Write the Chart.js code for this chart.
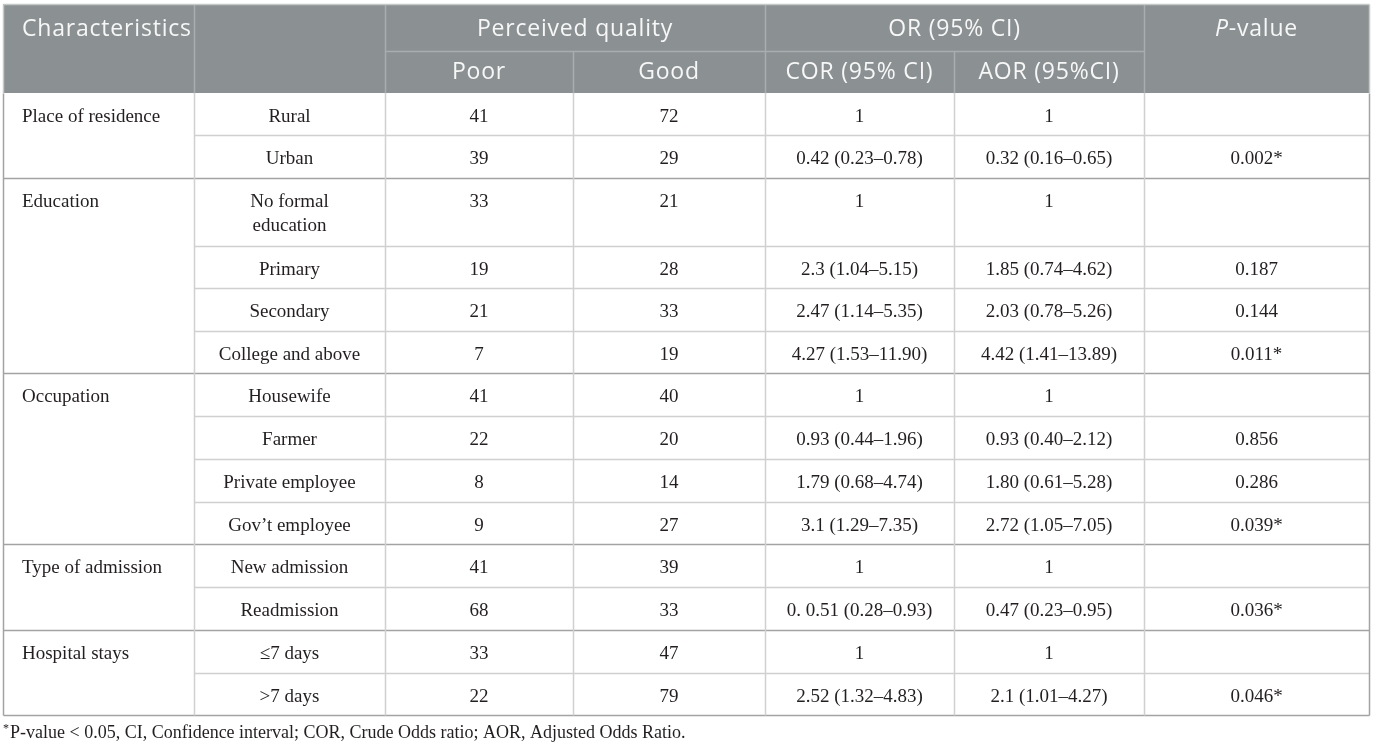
<!DOCTYPE html>
<html>
<head>
<meta charset="utf-8">
<script src="https://cdn.jsdelivr.net/npm/chart.js@4.4.1/dist/chart.umd.min.js"></script>
<style>
  html, body { margin: 0; padding: 0; background: #fff; }
  canvas { display: block; }
</style>
</head>
<body>
<canvas id="tbl" width="1375" height="748"></canvas>
<script>
// table content
const headTop = ['Characteristics', 'Perceived quality', 'OR (95% CI)', 'P-value'];
const headSub = ['Poor', 'Good', 'COR (95% CI)', 'AOR (95%CI)'];
const groups = ['Place of residence', 'Education', 'Occupation', 'Type of admission', 'Hospital stays'];
const groupSizes = [2, 4, 4, 2, 2];
const levels = ['Rural', 'Urban', 'No formal\neducation', 'Primary', 'Secondary', 'College and above',
  'Housewife', 'Farmer', 'Private employee', 'Gov\u2019t employee', 'New admission', 'Readmission',
  '\u22647 days', '>7 days'];
const poor = [41, 39, 33, 19, 21, 7, 41, 22, 8, 9, 41, 68, 33, 22];
const good = [72, 29, 21, 28, 33, 19, 40, 20, 14, 27, 39, 33, 47, 79];
const cor = ['1', '0.42 (0.23\u20130.78)', '1', '2.3 (1.04\u20135.15)', '2.47 (1.14\u20135.35)', '4.27 (1.53\u201311.90)',
  '1', '0.93 (0.44\u20131.96)', '1.79 (0.68\u20134.74)', '3.1 (1.29\u20137.35)', '1', '0. 0.51 (0.28\u20130.93)',
  '1', '2.52 (1.32\u20134.83)'];
const aor = ['1', '0.32 (0.16\u20130.65)', '1', '1.85 (0.74\u20134.62)', '2.03 (0.78\u20135.26)', '4.42 (1.41\u201313.89)',
  '1', '0.93 (0.40\u20132.12)', '1.80 (0.61\u20135.28)', '2.72 (1.05\u20137.05)', '1', '0.47 (0.23\u20130.95)',
  '1', '2.1 (1.01\u20134.27)'];
const pvals = ['', '0.002*', '', '0.187', '0.144', '0.011*', '', '0.856', '0.286', '0.039*', '', '0.036*', '', '0.046*'];
const footnote = 'P-value < 0.05, CI, Confidence interval; COR, Crude Odds ratio; AOR, Adjusted Odds Ratio.';

// layout (scale units)
const colEdges = [3, 194, 385, 573, 765, 954, 1144, 1369];
const headEdges = [4, 51, 93];
const rowEdges = [93, 135, 178, 246, 288, 331, 373, 416, 459, 502, 544, 587, 630, 673, 715];
const textDrop = 24;
const lineGap = 24;
const headBg = '#8b9193';
const headLine = '#a8adaf';
const innerLine = '#d0d0d0';
const groupLine = '#a3a3a3';
const ink = '#231f20';
const serif = '"Liberation Serif", "DejaVu Serif", serif';
const sans = '"Open Sans", "Noto Sans", sans-serif';
const headFont = '23px ' + sans;

const groupStart = [];
groupSizes.reduce((acc, n) => { groupStart.push(acc); return acc + n; }, 0);

const colMid = i => (colEdges[i] + colEdges[i + 1]) / 2;
const textY = r => rowEdges[r] + textDrop;

function column(labels, col, align) {
  return {
    labels: labels.map(String),
    align: align,
    data: labels.map((_, r) => ({ x: align === 'left' ? colEdges[col] + 19 : colMid(col), y: textY(r) })),
    pointRadius: 0
  };
}

const datasets = [
  {
    labels: groups, align: 'left', pointRadius: 0,
    data: groups.map((_, g) => ({ x: colEdges[0] + 19, y: textY(groupStart[g]) }))
  },
  column(levels, 1, 'center'),
  column(poor, 2, 'center'),
  column(good, 3, 'center'),
  column(cor, 4, 'center'),
  column(aor, 5, 'center'),
  column(pvals, 6, 'center')
];

const tablePlugin = {
  id: 'table',
  beforeDatasetsDraw(chart) {
    const { ctx } = chart;
    const X = v => chart.scales.x.getPixelForValue(v);
    const Y = v => chart.scales.y.getPixelForValue(v);
    const L = colEdges[0], R = colEdges[colEdges.length - 1];
    ctx.save();
    // header background
    ctx.fillStyle = headBg;
    ctx.fillRect(X(L), Y(headEdges[0]), X(R) - X(L), Y(headEdges[2]) - Y(headEdges[0]));
    ctx.lineWidth = 1.5;
    const seg = (x1, y1, x2, y2, c) => {
      ctx.strokeStyle = c;
      ctx.beginPath();
      ctx.moveTo(Math.round(X(x1)) + 0.5, Math.round(Y(y1)) + 0.5);
      ctx.lineTo(Math.round(X(x2)) + 0.5, Math.round(Y(y2)) + 0.5);
      ctx.stroke();
    };
    // header lines
    seg(colEdges[2], headEdges[1], colEdges[6], headEdges[1], headLine);
    [1, 2, 4, 6].forEach(i => seg(colEdges[i], headEdges[0], colEdges[i], headEdges[2], headLine));
    [3, 5].forEach(i => seg(colEdges[i], headEdges[1], colEdges[i], headEdges[2], headLine));
    seg(L, headEdges[0], R, headEdges[0], '#c4c8c6');
    // body horizontal lines
    for (let r = 1; r < rowEdges.length - 1; r++) {
      if (groupStart.includes(r)) seg(L, rowEdges[r], R, rowEdges[r], groupLine);
      else seg(colEdges[1], rowEdges[r], R, rowEdges[r], innerLine);
    }
    seg(L, rowEdges[rowEdges.length - 1], R, rowEdges[rowEdges.length - 1], groupLine);
    // body vertical lines
    colEdges.forEach((e, i) => {
      const c = (i === 0 || i === colEdges.length - 1) ? groupLine : innerLine;
      seg(e, headEdges[2], e, rowEdges[rowEdges.length - 1], c);
    });
    seg(L, headEdges[0], L, headEdges[2], '#c4c8c6');
    seg(R, headEdges[0], R, headEdges[2], '#c4c8c6');
    ctx.restore();
  },
  afterDatasetsDraw(chart) {
    const { ctx } = chart;
    const X = v => chart.scales.x.getPixelForValue(v);
    const Y = v => chart.scales.y.getPixelForValue(v);
    ctx.save();
    ctx.textBaseline = 'middle';
    // header text
    ctx.fillStyle = '#f7f7f7';
    ctx.letterSpacing = '0.8px';
    ctx.font = headFont;
    const y1 = Y(headEdges[0] + 25), y2 = Y(headEdges[1] + 21);
    ctx.textAlign = 'left';
    ctx.fillText(headTop[0], X(colEdges[0] + 19), y1);
    ctx.textAlign = 'center';
    ctx.fillText(headTop[1], X((colEdges[2] + colEdges[4]) / 2), y1);
    ctx.fillText(headTop[2], X((colEdges[4] + colEdges[6]) / 2), y1);
    // P-value with italic P
    const pFirst = headTop[3].slice(0, 1), pRest = headTop[3].slice(1);
    ctx.font = 'italic ' + headFont;
    const wP = ctx.measureText(pFirst).width;
    ctx.font = headFont;
    const wR = ctx.measureText(pRest).width;
    const px = X(colMid(6)) - (wP + wR) / 2;
    ctx.textAlign = 'left';
    ctx.font = 'italic ' + headFont;
    ctx.fillText(pFirst, px, y1);
    ctx.font = headFont;
    ctx.fillText(pRest, px + wP, y1);
    ctx.textAlign = 'center';
    headSub.forEach((t, i) => ctx.fillText(t, X(colMid(i + 2)), y2));
    ctx.letterSpacing = '0px';

    // body cells
    ctx.fillStyle = ink;
    ctx.font = '19px ' + serif;
    chart.data.datasets.forEach((ds, di) => {
      const meta = chart.getDatasetMeta(di);
      ctx.textAlign = ds.align;
      meta.data.forEach((el, i) => {
        const lines = ds.labels[i].split('\n');
        lines.forEach((ln, k) => ctx.fillText(ln, el.x, el.y + k * lineGap));
      });
    });

    // footnote
    const fy = Y(rowEdges[rowEdges.length - 1] + 18);
    ctx.textAlign = 'left';
    ctx.font = '12px ' + serif;
    ctx.fillText('*', X(3), fy - 4);
    ctx.font = '18px ' + serif;
    ctx.fillText(footnote, X(10), fy);
    ctx.restore();
  }
};

new Chart(document.getElementById('tbl'), {
  type: 'scatter',
  data: { datasets },
  options: {
    responsive: false,
    animation: false,
    devicePixelRatio: 1,
    layout: { padding: 0 },
    plugins: { legend: { display: false }, tooltip: { enabled: false } },
    events: [],
    scales: {
      x: { type: 'linear', min: 0, max: 1375, display: false },
      y: { type: 'linear', min: 0, max: 748, reverse: true, display: false }
    }
  },
  plugins: [tablePlugin]
});
</script>
</body>
</html>
